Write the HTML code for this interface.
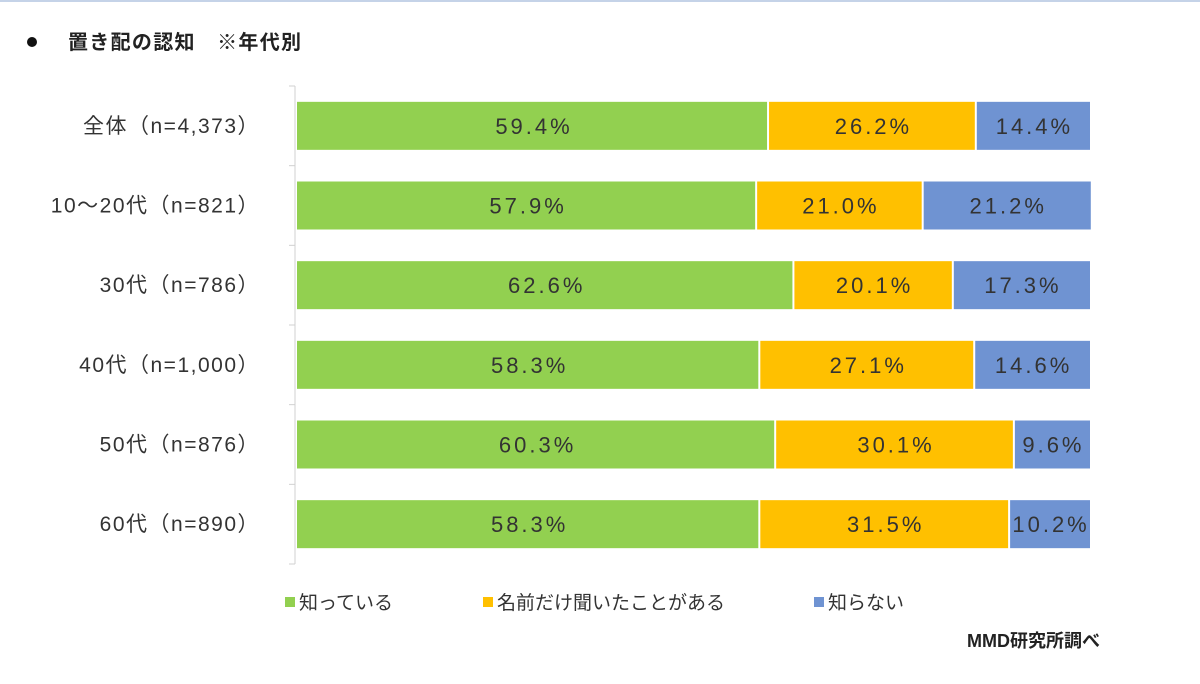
<!DOCTYPE html>
<html><head><meta charset="utf-8"><style>
body{margin:0;background:#fff;width:1200px;height:679px;overflow:hidden;font-family:"Liberation Sans","Noto Sans CJK JP",sans-serif;}
</style></head><body>
<svg id="c" width="1200" height="679" xmlns="http://www.w3.org/2000/svg" style="font-family:'Liberation Sans','Noto Sans CJK JP',sans-serif">
<rect x="0" y="0" width="1200" height="2" fill="#c5d3e8"/>
<circle cx="32" cy="42" r="5" fill="#111"/>
<text x="68" y="49" font-size="20" font-weight="bold" letter-spacing="1.3" fill="#222">置き配の認知　※年代別</text>
<text x="1100" y="647" font-size="18" font-weight="bold" fill="#222" text-anchor="end">MMD研究所調べ</text>
<g id="plot"></g>
<g id="legend"></g>
</svg>
<script>
const categories=["全体（n=4,373）","10～20代（n=821）","30代（n=786）","40代（n=1,000）","50代（n=876）","60代（n=890）"];
const known=[59.4,57.9,62.6,58.3,60.3,58.3];
const heard=[26.2,21.0,20.1,27.1,30.1,31.5];
const unknown=[14.4,21.2,17.3,14.6,9.6,10.2];
const seriesNames=["知っている","名前だけ聞いたことがある","知らない"];
const colors=["#92d050","#ffc000","#6f93d2"];
const X0=297,X1=1090,Y0=86,Y1=564;
const NS="http://www.w3.org/2000/svg";
const xs=v=>X0+(X1-X0)*v/100;
const rowH=(Y1-Y0)/categories.length;
const yc=i=>Y0+rowH*(i+0.5);
const plot=document.getElementById('plot');
function mk(t,a,p){const e=document.createElementNS(NS,t);for(const k in a)e.setAttribute(k,a[k]);p.appendChild(e);return e;}
const ax=mk('line',{x1:295,y1:Y0,x2:295,y2:Y1,stroke:'#d0d0d0','stroke-width':1},plot);


for(let i=0;i<=categories.length;i++){const y=Y0+rowH*i;const t=mk('line',{x1:289,y1:y,x2:295,y2:y,stroke:'#d0d0d0'},plot);

}
const series=[known,heard,unknown];
categories.forEach((c,i)=>{
 const l=mk('text',{x:260,y:yc(i)+7,'font-size':21,'letter-spacing':1.5,fill:'#333','text-anchor':'end'},plot);l.textContent=c;
 
 
 let acc=0;
 series.forEach((s,k)=>{
  const a=xs(acc),b=xs(acc+s[i]);acc+=s[i];
  const r=mk('rect',{x:a+(k?1:0),y:yc(i)-24,width:b-a-(k?1:0)-(k<2?1:0),height:48,fill:colors[k]},plot);
  
  
  const t=mk('text',{x:(a+b)/2+1.5,y:yc(i)+8,'font-size':22,'letter-spacing':3,fill:'#333','text-anchor':'middle'},plot);t.textContent=s[i].toFixed(1)+'%';
  
  
 });
});
const lg=document.getElementById('legend');const lx=[285,483,814];
seriesNames.forEach((n,k)=>{
 const r=mk('rect',{x:lx[k],y:597,width:10,height:10,fill:colors[k]},lg);
 
 
 const t=mk('text',{x:lx[k]+14,y:609,'font-size':19,fill:'#333'},lg);t.textContent=n;
 
 
});
</script>
</body></html>
